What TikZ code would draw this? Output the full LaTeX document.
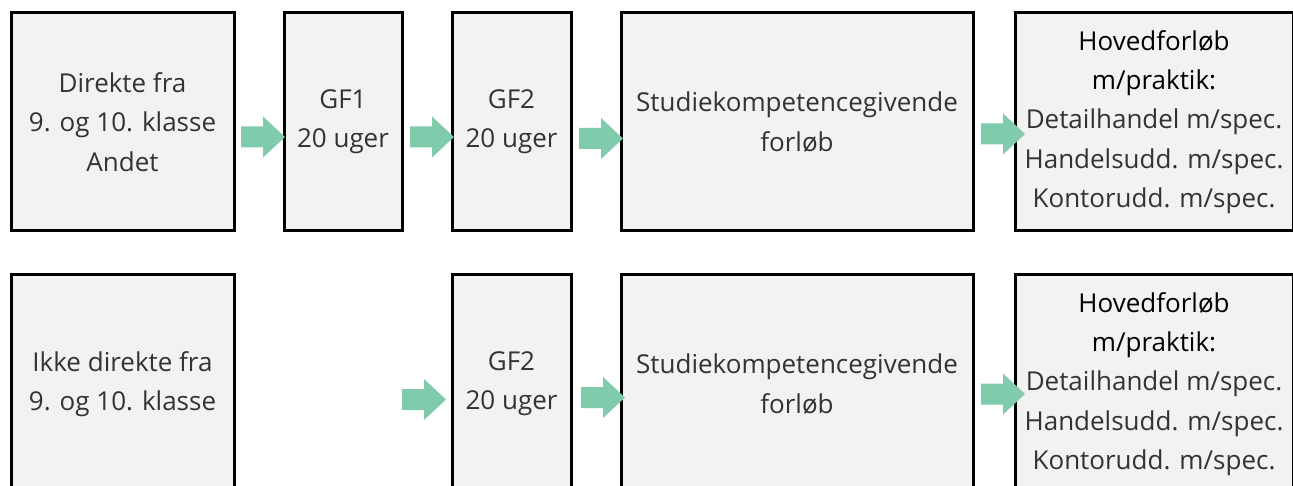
\documentclass[tikz,border=0pt]{standalone}
\usepackage{fontspec}
\setmainfont{Open Sans}
\usetikzlibrary{calc}
\definecolor{boxgray}{HTML}{F2F2F2}
\definecolor{txtgray}{HTML}{333333}
\definecolor{arrowgreen}{HTML}{7FCBAC}
\tikzset{
  stagebox/.style={draw=black, line width=3pt, fill=boxgray, inner sep=0pt,
    anchor=north west, align=center, text=txtgray,
    font=\fontsize{26}{39.2}\selectfont, minimum height=218pt},
  blockarrow/.pic={
    \fill[arrowgreen] (0,-10.5) -- (22,-10.5) -- (22,-20.5) -- (44,0) -- (22,20.5) -- (22,10.5) -- (0,10.5) -- cycle;
  }
}
\newcommand{\headtxt}[1]{{\color{black}#1}}
\begin{document}
\begin{tikzpicture}[x=1pt,y=-1pt]
\useasboundingbox (0,0) rectangle (1293,486);
\clip (0,0) rectangle (1293,486);
% row 1
\node[stagebox, minimum width=223pt] (a1) at (9.5,11.5) {Direkte fra\\9. og 10. klasse\\Andet};
\node[stagebox, minimum width=118pt] (a2) at (282.5,11.5) {GF1\\20 uger};
\node[stagebox, minimum width=119pt] (a3) at (450.5,11.5) {GF2\\20 uger};
\node[stagebox, minimum width=352pt] (a4) at (619.5,11.5) {Studiekompetencegivende\\forløb};
\node[stagebox, minimum width=278pt] (a5) at (1013.5,11.5) {\headtxt{Hovedforløb}\\\headtxt{m/praktik:}\\Detailhandel m/spec.\\Handelsudd. m/spec.\\Kontorudd. m/spec.};
% row 2
\node[stagebox, minimum width=223pt] (b1) at (9.5,273.5) {Ikke direkte fra\\9. og 10. klasse};
\node[stagebox, minimum width=119pt] (b3) at (450.5,273.5) {GF2\\20 uger};
\node[stagebox, minimum width=352pt] (b4) at (619.5,273.5) {Studiekompetencegivende\\forløb};
\node[stagebox, minimum width=278pt] (b5) at (1013.5,273.5) {\headtxt{Hovedforløb}\\\headtxt{m/praktik:}\\Detailhandel m/spec.\\Handelsudd. m/spec.\\Kontorudd. m/spec.};
% arrows row 1
\pic at ($(a1.east |- 0,137)+(5.5,0)$) {blockarrow};
\pic at ($(a2.east |- 0,137)+(6.5,0)$) {blockarrow};
\pic at ($(a3.east |- 0,138.5)+(6.5,0)$) {blockarrow};
\pic at ($(a4.east |- 0,134)+(6.5,0)$) {blockarrow};
% arrows row 2
\pic at ($(b3.west |- 0,399.5)+(-48.5,0)$) {blockarrow};
\pic at ($(b3.east |- 0,397.5)+(8.5,0)$) {blockarrow};
\pic at ($(b4.east |- 0,394)+(6.5,0)$) {blockarrow};
\end{tikzpicture}
\end{document}
